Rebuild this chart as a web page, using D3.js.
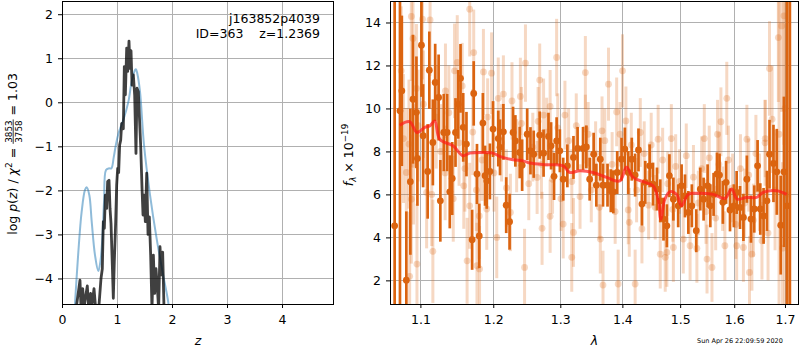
<!DOCTYPE html>
<html>
<head>
<meta charset="utf-8">
<script src="https://cdn.jsdelivr.net/npm/d3@7"></script>
<style>
  body { margin: 0; background: #fff; }
  svg { font-family: "DejaVu Sans", sans-serif; }
  text { white-space: pre; }
</style>
</head>
<body>
<div id="chart"></div>
<script>
// ---- data: left panel, log p(z) ----
const zTicks = [0, 1, 2, 3, 4];
const pzTicks = [-4, -3, -2, -1, 0, 1, 2];
const priorZ = [0.23, 0.297, 0.357, 0.418, 0.449, 0.497, 0.54, 0.6, 0.66, 0.7, 0.733, 0.764, 0.8, 0.85, 0.897, 0.94, 0.982, 1.024, 1.07, 1.115, 1.206, 1.267, 1.327, 1.345, 1.37, 1.418, 1.491, 1.6, 1.72, 1.84, 1.92, 1.96];
const priorLogp = [-4.7, -3.4, -2.49, -1.99, -1.93, -2.11, -2.71, -3.47, -3.83, -3.6, -3.09, -2.26, -1.54, -1.5, -1.5, -1.25, -0.95, -0.72, -0.55, -0.4, 0.01, 0.47, 0.73, 0.75, 0.65, 0.24, -0.97, -2.1, -3.09, -3.93, -4.45, -4.8];
const fitZ = [0.255, 0.327, 0.345, 0.376, 0.4, 0.46, 0.48, 0.52, 0.54, 0.582, 0.61, 0.67, 0.709, 0.733, 0.751, 0.77, 0.788, 0.812, 0.83, 0.855, 0.873, 0.891, 0.915, 0.933, 0.951, 0.976, 0.994, 1.012, 1.03, 1.048, 1.067, 1.085, 1.103, 1.115, 1.133, 1.152, 1.176, 1.194, 1.218, 1.236, 1.255, 1.273, 1.297, 1.321, 1.345, 1.364, 1.388, 1.406, 1.43, 1.455, 1.473, 1.491, 1.515, 1.54, 1.564, 1.588, 1.612, 1.636, 1.661, 1.685, 1.709, 1.733, 1.757, 1.782, 1.806, 1.83, 1.855, 1.88];
const fitLogp = [-4.7, -4.04, -4.65, -4.23, -4.65, -4.17, -4.6, -4.34, -4.65, -4.23, -4.65, -4.65, -4.0, -3.78, -2.71, -2.86, -2.11, -2.41, -1.8, -1.77, -2.41, -2.75, -3.7, -4.45, -3.62, -2.71, -1.88, -1.5, -1.6, -0.97, -0.86, -0.48, -0.47, -0.6, 0.81, 0.17, 1.23, 0.7, 1.39, 0.77, 1.17, 0.39, 0.62, 0.17, -1.16, 0.32, 0.24, -0.29, -0.97, -1.95, -2.56, -2.11, -2.71, -1.61, -3.0, -2.6, -3.47, -4.7, -3.47, -4.34, -3.78, -4.2, -4.7, -3.28, -3.92, -3.4, -4.7, -4.7];

// ---- data: right panel, spectrum [lambda, flux, error] ----
const lamTicks = [1.1, 1.2, 1.3, 1.4, 1.5, 1.6, 1.7];
const fluxTicks = [2, 4, 6, 8, 10, 12, 14];
const specMain = [
  [1.0667, 4.54, 30], [1.0735, 9.89, 30], [1.0759, 10.82, 3.5], [1.0817, 2.01, 3.2], [1.0869, 6.59, 3.4],
  [1.0903, 10.43, 3.0], [1.0948, 9.82, 2.6], [1.0961, 7.67, 2.2], [1.1014, 12.94, 2.4], [1.1036, 8.73, 2.4],
  [1.1096, 7.07, 2.2], [1.1118, 11.78, 1.8], [1.1165, 8.42, 2.0], [1.1196, 11.21, 1.8], [1.1242, 10.51, 2.0],
  [1.1265, 5.70, 1.9], [1.1311, 8.88, 1.8], [1.1357, 8.88, 1.8], [1.1393, 6.12, 1.7], [1.1426, 6.74, 1.7],
  [1.1471, 8.88, 1.6], [1.1508, 10.19, 1.6], [1.1540, 11.40, 1.6], [1.1577, 9.12, 1.6], [1.1622, 8.34, 1.5],
  [1.1701, 3.89, 1.4], [1.1723, 10.70, 1.5], [1.1769, 6.95, 1.4], [1.1801, 4.07, 1.5], [1.1852, 9.32, 1.4],
  [1.1883, 6.87, 1.4], [1.1907, 6.63, 1.3], [1.1952, 7.07, 1.3], [1.1997, 9.04, 1.3], [1.2072, 8.60, 1.3],
  [1.2097, 8.19, 1.3], [1.2146, 8.91, 1.3], [1.2187, 5.50, 1.3], [1.2236, 4.73, 1.3], [1.2287, 8.88, 1.2],
  [1.2321, 8.49, 1.2], [1.2385, 7.95, 1.2], [1.2421, 7.36, 1.2], [1.2496, 8.80, 1.2], [1.2545, 8.03, 1.1],
  [1.2594, 7.87, 1.1], [1.2684, 8.76, 1.1], [1.2743, 7.92, 1.1], [1.2818, 8.70, 1.1], [1.2858, 8.26, 1.1],
  [1.2903, 6.84, 1.1], [1.2943, 8.49, 1.1], [1.2993, 8.03, 1.0], [1.3045, 6.71, 1.0], [1.3110, 7.33, 1.0],
  [1.3206, 7.72, 1.0], [1.3271, 8.14, 1.0], [1.3358, 8.14, 1.0], [1.3411, 8.21, 1.0], [1.3464, 6.71, 1.0],
  [1.3528, 7.87, 1.0], [1.3572, 6.43, 1.0], [1.3636, 7.64, 1.0], [1.3680, 6.43, 1.0], [1.3754, 6.43, 1.0],
  [1.3808, 6.17, 1.0], [1.3850, 6.12, 1.0], [1.3914, 7.02, 1.0], [1.3986, 7.64, 1.0], [1.4042, 8.11, 1.0],
  [1.4099, 7.02, 1.0], [1.4158, 7.64, 1.0], [1.4215, 6.90, 1.0], [1.4272, 8.07, 1.0], [1.4331, 5.55, 1.0],
  [1.4388, 6.56, 1.0], [1.4463, 7.33, 1.0], [1.4522, 6.48, 1.0], [1.4591, 6.25, 1.0], [1.4648, 5.70, 1.0],
  [1.4705, 4.85, 1.0], [1.4764, 4.54, 1.0], [1.4809, 6.87, 1.0], [1.4879, 5.78, 1.0], [1.4965, 5.47, 1.0],
  [1.5026, 6.40, 1.0], [1.5087, 5.93, 1.0], [1.5148, 5.16, 1.0], [1.5211, 5.47, 1.0], [1.5291, 4.31, 1.0],
  [1.5365, 6.25, 1.0], [1.5426, 5.78, 1.0], [1.5500, 6.40, 1.0], [1.5550, 5.47, 1.0], [1.5611, 6.00, 1.0],
  [1.5674, 6.95, 1.0], [1.5722, 6.90, 1.0], [1.5785, 5.63, 1.0], [1.5846, 6.56, 1.0], [1.5920, 5.28, 1.0],
  [1.5994, 5.47, 1.0], [1.6047, 6.09, 1.0], [1.6112, 5.39, 1.0], [1.6177, 4.93, 1.1], [1.6244, 6.71, 1.1],
  [1.6323, 4.85, 1.1], [1.6388, 5.32, 1.1], [1.6453, 7.33, 1.2], [1.6506, 5.32, 1.2], [1.6571, 5.00, 1.3],
  [1.6638, 5.70, 1.4], [1.6689, 7.87, 1.6], [1.6768, 7.44, 1.8], [1.6835, 7.05, 2.0], [1.6914, 4.57, 2.3],
  [1.6979, 7.05, 3.5], [1.7045, 5.47, 30], [1.7100, 16.0, 30]
];
const specFaint = [
  [1.0751, 11.75, 3], [1.0780, 8.6, 3], [1.0817, 7.02, 3], [1.0851, 8.34, 3], [1.0860, 2.19, 3],
  [1.0882, 14.28, 3], [1.0882, 5.78, 3], [1.0903, 13.26, 3], [1.0910, 7.4, 2.8], [1.0948, 10.93, 3],
  [1.0955, 2.76, 2.8], [1.0970, 9.2, 2.6], [1.1027, 14.15, 2.8], [1.1040, 10.2, 2.5], [1.1082, 6.09, 2.6],
  [1.1128, 14.12, 2.6], [1.1150, 6.0, 2.4], [1.1165, 3.35, 2.4], [1.1210, 9.6, 2.4], [1.1270, 8.0, 2.2],
  [1.1330, 7.0, 2.2], [1.1334, 10.82, 2.2], [1.1380, 9.8, 2.2], [1.1440, 5.8, 2.0], [1.1458, 11.75, 2.2],
  [1.1495, 12.14, 2.2], [1.1520, 8.4, 2.0], [1.1563, 11.05, 2], [1.1585, 6.4, 2], [1.1600, 7.2, 2.0],
  [1.1631, 2.91, 2], [1.1667, 14.62, 2.2], [1.1667, 5.47, 2], [1.1710, 8.9, 2.0], [1.1723, 12.6, 2],
  [1.1760, 6.2, 1.9], [1.1769, 2.68, 2], [1.1801, 5.0, 2], [1.1805, 2.53, 2], [1.1840, 7.6, 1.9],
  [1.1860, 11.7, 2], [1.1907, 5.32, 1.9], [1.1920, 9.6, 1.8], [1.1976, 11.64, 1.9], [1.2010, 7.0, 1.8],
  [1.2050, 4.0, 1.9], [1.2072, 10.47, 1.9], [1.2120, 8.4, 1.8], [1.2146, 10.67, 1.8], [1.2190, 6.3, 1.8],
  [1.2248, 5.16, 1.8], [1.2271, 10.35, 1.8], [1.2340, 7.8, 1.7], [1.2395, 10.56, 1.8], [1.2410, 9.3, 1.7],
  [1.2457, 2.6, 1.8], [1.2470, 12.11, 1.8], [1.2520, 6.5, 1.7], [1.2580, 8.2, 1.6], [1.2645, 6.79, 1.7],
  [1.2660, 9.4, 1.6], [1.2684, 11.32, 1.7], [1.2710, 7.4, 1.6], [1.2720, 4.42, 1.7], [1.2743, 9.69, 1.7],
  [1.2790, 8.9, 1.6], [1.2843, 10.09, 1.7], [1.2843, 4.98, 1.7], [1.2880, 6.7, 1.6], [1.2943, 12.37, 1.8],
  [1.2960, 9.1, 1.6], [1.3010, 5.8, 1.5], [1.3045, 4.62, 1.6], [1.3072, 9.69, 1.6], [1.3130, 8.5, 1.5],
  [1.3179, 3.07, 1.6], [1.3180, 6.6, 1.5], [1.3206, 4.23, 1.6], [1.3250, 9.2, 1.5], [1.3310, 5.9, 1.5],
  [1.3395, 11.67, 1.7], [1.3395, 9.04, 1.6], [1.3440, 8.8, 1.5], [1.3490, 6.2, 1.5], [1.3560, 7.9, 1.5],
  [1.3620, 5.4, 1.5], [1.3636, 3.92, 1.6], [1.3664, 8.96, 1.6], [1.3680, 1.78, 1.6], [1.3710, 8.5, 1.5],
  [1.3770, 11.13, 1.7], [1.3830, 7.4, 1.5], [1.3880, 5.2, 1.5], [1.3905, 9.84, 1.6], [1.3930, 1.83, 1.6],
  [1.3960, 8.8, 1.5], [1.4002, 11.75, 1.7], [1.4059, 9.42, 1.6], [1.4099, 5.28, 1.6], [1.4116, 4.7, 1.6],
  [1.4150, 8.3, 1.5], [1.4215, 1.83, 1.6], [1.4240, 6.2, 1.5], [1.4303, 8.88, 1.6], [1.4331, 4.39, 1.6],
  [1.4370, 7.9, 1.5], [1.4446, 5.5, 1.6], [1.4490, 8.3, 1.5], [1.4560, 5.4, 1.5], [1.4611, 8.57, 1.6],
  [1.4648, 3.22, 1.6], [1.4690, 7.6, 1.5], [1.4735, 3.07, 1.6], [1.4764, 3.3, 1.6], [1.4780, 6.5, 1.5],
  [1.4843, 8.6, 1.6], [1.4870, 5.3, 1.5], [1.4879, 3.53, 1.6], [1.4920, 7.3, 1.5], [1.4990, 6.6, 1.5],
  [1.5056, 3.92, 1.6], [1.5110, 7.8, 1.5], [1.5179, 3.61, 1.6], [1.5240, 6.8, 1.5], [1.5303, 3.49, 1.6],
  [1.5330, 5.6, 1.5], [1.5390, 7.2, 1.5], [1.5439, 8.6, 1.6], [1.5470, 5.2, 1.5], [1.5489, 2.99, 1.6],
  [1.5530, 7.7, 1.5], [1.5581, 2.6, 1.6], [1.5650, 4.9, 1.5], [1.5685, 8.8, 1.6], [1.5710, 7.4, 1.5],
  [1.5748, 9.38, 1.6], [1.5780, 5.8, 1.5], [1.5823, 3.61, 1.6], [1.5859, 10.47, 1.7], [1.5890, 7.6, 1.6],
  [1.5970, 6.3, 1.6], [1.6030, 4.6, 1.6], [1.6047, 3.61, 1.6], [1.6120, 7.2, 1.6], [1.6177, 3.53, 1.6],
  [1.6200, 5.6, 1.6], [1.6244, 8.57, 1.6], [1.6280, 6.9, 1.7], [1.6295, 2.37, 1.7], [1.6342, 3.22, 1.7],
  [1.6370, 4.8, 1.7], [1.6420, 7.9, 1.8], [1.6490, 6.1, 1.8], [1.6539, 3.84, 1.8], [1.6600, 8.4, 2.0],
  [1.6604, 8.6, 1.8], [1.6660, 4.2, 2.2], [1.6689, 11.86, 2.2], [1.6740, 9.5, 2.5], [1.6800, 6.2, 2.8],
  [1.6866, 13.3, 3], [1.6880, 8.8, 8], [1.6933, 13.84, 4], [1.6950, 3.5, 4], [1.6979, 14.31, 6],
  [1.7000, 10, 12], [1.7030, 6, 12]
];
const modelLam = [1.0731, 1.0860, 1.0955, 1.1057, 1.1123, 1.1190, 1.1257, 1.1437, 1.1574, 1.1668, 1.1855, 1.1997, 1.2093, 1.2287, 1.2435, 1.2534, 1.2787, 1.3043, 1.3148, 1.3306, 1.3519, 1.3738, 1.3957, 1.4069, 1.4181, 1.4351, 1.4523, 1.4611, 1.4658, 1.4729, 1.4816, 1.4936, 1.5025, 1.5144, 1.5296, 1.5603, 1.5823, 1.5950, 1.6057, 1.6239, 1.6434, 1.6564, 1.6831, 1.7034];
const modelFlux = [9.22, 9.38, 8.88, 9.12, 9.19, 9.42, 8.57, 8.26, 7.80, 7.92, 7.95, 7.92, 7.77, 7.61, 7.56, 7.46, 7.38, 7.33, 7.02, 7.10, 7.02, 6.79, 6.63, 7.26, 6.79, 6.59, 6.40, 5.78, 4.85, 5.78, 6.12, 6.00, 5.47, 6.00, 6.05, 6.00, 5.81, 6.25, 5.78, 5.86, 5.86, 6.09, 6.17, 6.00];

const fitName = "j163852p4039";
const fitInfo = "ID=363    z=1.2369";
const chi2Num = "3853", chi2Den = "3758", chi2Val = "1.03";
const stamp = "Sun Apr 26 22:09:59 2020";

// ---- layout ----
const W = 800, H = 350;
const fs = 12.5;
const orange = "#db6410";
const gridColor = "#b0b0b0";

const svg = d3.select("#chart").append("svg").attr("width", W).attr("height", H);
const defs = svg.append("defs");

const L = { x0: 62, x1: 334, y0: 1, y1: 304 };
const R = { x0: 390, x1: 799, y0: 1, y1: 304 };

const xL = d3.scaleLinear().domain([0, 4.945]).range([L.x0, L.x1]);
const yL = d3.scaleLinear().domain([-4.58, 2.30]).range([L.y1, L.y0]);
const xR = d3.scaleLog().domain([1.0608, 1.7287]).range([R.x0, R.x1]);
const yR = d3.scaleLinear().domain([0.9, 15.0]).range([R.y1, R.y0]);

function clip(id, b) {
  defs.append("clipPath").attr("id", id).append("rect")
    .attr("x", b.x0).attr("y", b.y0).attr("width", b.x1 - b.x0).attr("height", b.y1 - b.y0);
}
clip("clipL", L);
clip("clipR", R);

// grid lines
function grid(b, xs, xt, ys, yt) {
  const g = svg.append("g").attr("stroke", gridColor).attr("stroke-width", 1);
  g.selectAll(".gx").data(xt).join("line")
    .attr("x1", d => Math.round(xs(d)) + 0.5).attr("x2", d => Math.round(xs(d)) + 0.5)
    .attr("y1", b.y0).attr("y2", b.y1);
  g.selectAll(".gy").data(yt).join("line")
    .attr("y1", d => Math.round(ys(d)) + 0.5).attr("y2", d => Math.round(ys(d)) + 0.5)
    .attr("x1", b.x0).attr("x2", b.x1);
}
grid(L, xL, zTicks, yL, pzTicks);
grid(R, xR, lamTicks, yR, fluxTicks);

// axes
function styleAxis(g) {
  g.select(".domain").remove();
  g.attr("font-family", null).attr("font-size", fs);
  g.selectAll("text").attr("fill", "#000");
  g.selectAll("line").attr("stroke", "#000");
}
svg.append("g").attr("transform", `translate(0,${L.y1})`)
  .call(d3.axisBottom(xL).tickValues(zTicks).tickSize(4).tickPadding(7).tickFormat(d3.format("d")))
  .call(styleAxis);
svg.append("g").attr("transform", `translate(${L.x0},0)`)
  .call(d3.axisLeft(yL).tickValues(pzTicks).tickSize(4).tickPadding(5).tickFormat(d3.format("d")))
  .call(styleAxis);
svg.append("g").attr("transform", `translate(0,${R.y1})`)
  .call(d3.axisBottom(xR).tickValues(lamTicks).tickSize(4).tickPadding(7).tickFormat(d3.format(".1f")))
  .call(styleAxis);
svg.append("g").attr("transform", `translate(${R.x0},0)`)
  .call(d3.axisLeft(yR).tickValues(fluxTicks).tickSize(4).tickPadding(5).tickFormat(d3.format("d")))
  .call(styleAxis);

// ---- left panel curves ----
const pl = svg.append("g").attr("clip-path", "url(#clipL)");
pl.append("path")
  .datum(priorZ.map((z, i) => [z, priorLogp[i]]))
  .attr("fill", "none").attr("stroke", "#1f77b4").attr("stroke-opacity", 0.5).attr("stroke-width", 2)
  .attr("d", d3.line().x(d => xL(d[0])).y(d => yL(d[1])).curve(d3.curveCatmullRom));
pl.append("path")
  .datum(fitZ.map((z, i) => [z, fitLogp[i]]))
  .attr("fill", "none").attr("stroke", "#000").attr("stroke-opacity", 0.75).attr("stroke-width", 2.8)
  .attr("stroke-linejoin", "round")
  .attr("d", d3.line().x(d => xL(d[0])).y(d => yL(d[1])));

svg.append("text").attr("x", 320).attr("y", 23).attr("text-anchor", "end").attr("font-size", fs).text(fitName);
svg.append("text").attr("x", 320).attr("y", 38).attr("text-anchor", "end").attr("font-size", fs).text(fitInfo);

// ---- right panel spectrum ----
const pr = svg.append("g").attr("clip-path", "url(#clipR)");
function errbars(data, op, lw) {
  const g = pr.append("g");
  g.selectAll("line").data(data).join("line")
    .attr("x1", d => xR(d[0])).attr("x2", d => xR(d[0]))
    .attr("y1", d => yR(d[1] - d[2])).attr("y2", d => yR(d[1] + d[2]))
    .attr("stroke", orange).attr("stroke-opacity", op).attr("stroke-width", lw);
  g.selectAll("circle").data(data).join("circle")
    .attr("cx", d => xR(d[0])).attr("cy", d => yR(d[1])).attr("r", 3.4)
    .attr("fill", orange).attr("fill-opacity", op);
}
errbars(specFaint, 0.25, 3);
errbars(specMain, 1, 2.7);

pr.append("path")
  .datum(modelLam.map((l, i) => [l, modelFlux[i]]))
  .attr("fill", "none").attr("stroke", "#ff1a1a").attr("stroke-opacity", 0.7).attr("stroke-width", 3)
  .attr("stroke-linejoin", "round")
  .attr("d", d3.line().x(d => xR(d[0])).y(d => yR(d[1])).curve(d3.curveCatmullRom));

// frames
[L, R].forEach(b => {
  svg.append("rect").attr("x", b.x0 + 0.5).attr("y", b.y0 + 0.5)
    .attr("width", b.x1 - b.x0 - 1).attr("height", b.y1 - b.y0)
    .attr("fill", "none").attr("stroke", "#000").attr("stroke-width", 1);
});

// ---- axis labels ----
svg.append("text").attr("x", (L.x0 + L.x1) / 2).attr("y", 345).attr("text-anchor", "middle")
  .attr("font-size", fs).attr("font-style", "italic").text("z");
svg.append("text").attr("x", (R.x0 + R.x1) / 2).attr("y", 345).attr("text-anchor", "middle")
  .attr("font-size", fs).attr("font-style", "italic").text("λ");

// left y label: log p(z) / chi^2 = num/den = val
{
  const g = svg.append("g").attr("transform", "translate(17,154) rotate(-90)");
  const inner = g.append("g");
  const t1 = inner.append("text").attr("font-size", fs);
  t1.append("tspan").text("log ");
  t1.append("tspan").attr("font-style", "italic").text("p");
  t1.append("tspan").text("(");
  t1.append("tspan").attr("font-style", "italic").text("z");
  t1.append("tspan").text(") / ");
  t1.append("tspan").attr("font-style", "italic").text("χ");
  t1.append("tspan").attr("font-size", 9).attr("dy", -5).text("2");
  t1.append("tspan").attr("dy", 5).text(" = ");
  const w1 = t1.node().getComputedTextLength();
  const num = inner.append("text").attr("font-size", 8.8).attr("text-anchor", "middle").attr("y", -5.5).text(chi2Num);
  const den = inner.append("text").attr("font-size", 8.8).attr("text-anchor", "middle").attr("y", 4.8).text(chi2Den);
  const fw = Math.max(num.node().getComputedTextLength(), den.node().getComputedTextLength()) + 2;
  num.attr("x", w1 + fw / 2);
  den.attr("x", w1 + fw / 2);
  inner.append("line").attr("x1", w1).attr("x2", w1 + fw).attr("y1", -3.8).attr("y2", -3.8)
    .attr("stroke", "#000").attr("stroke-width", 0.8);
  const t3 = inner.append("text").attr("font-size", fs).attr("x", w1 + fw).text(" = " + chi2Val);
  const total = w1 + fw + t3.node().getComputedTextLength();
  inner.attr("transform", `translate(${-total / 2},0)`);
}

// right y label: f_lambda x 10^-19
{
  const g = svg.append("g").attr("transform", "translate(353,155) rotate(-90)");
  const t = g.append("text").attr("font-size", fs);
  t.append("tspan").attr("font-style", "italic").text("f");
  t.append("tspan").attr("font-style", "italic").attr("font-size", 8.8).attr("dy", 3).text("λ");
  t.append("tspan").attr("dy", -3).text(" × 10");
  t.append("tspan").attr("font-size", 8.8).attr("dy", -5).text("−19");
  const w = t.node().getComputedTextLength();
  t.attr("x", -w / 2);
}

svg.append("text").attr("x", 697).attr("y", 343).attr("font-size", 6.5).text(stamp);
</script>
</body>
</html>
